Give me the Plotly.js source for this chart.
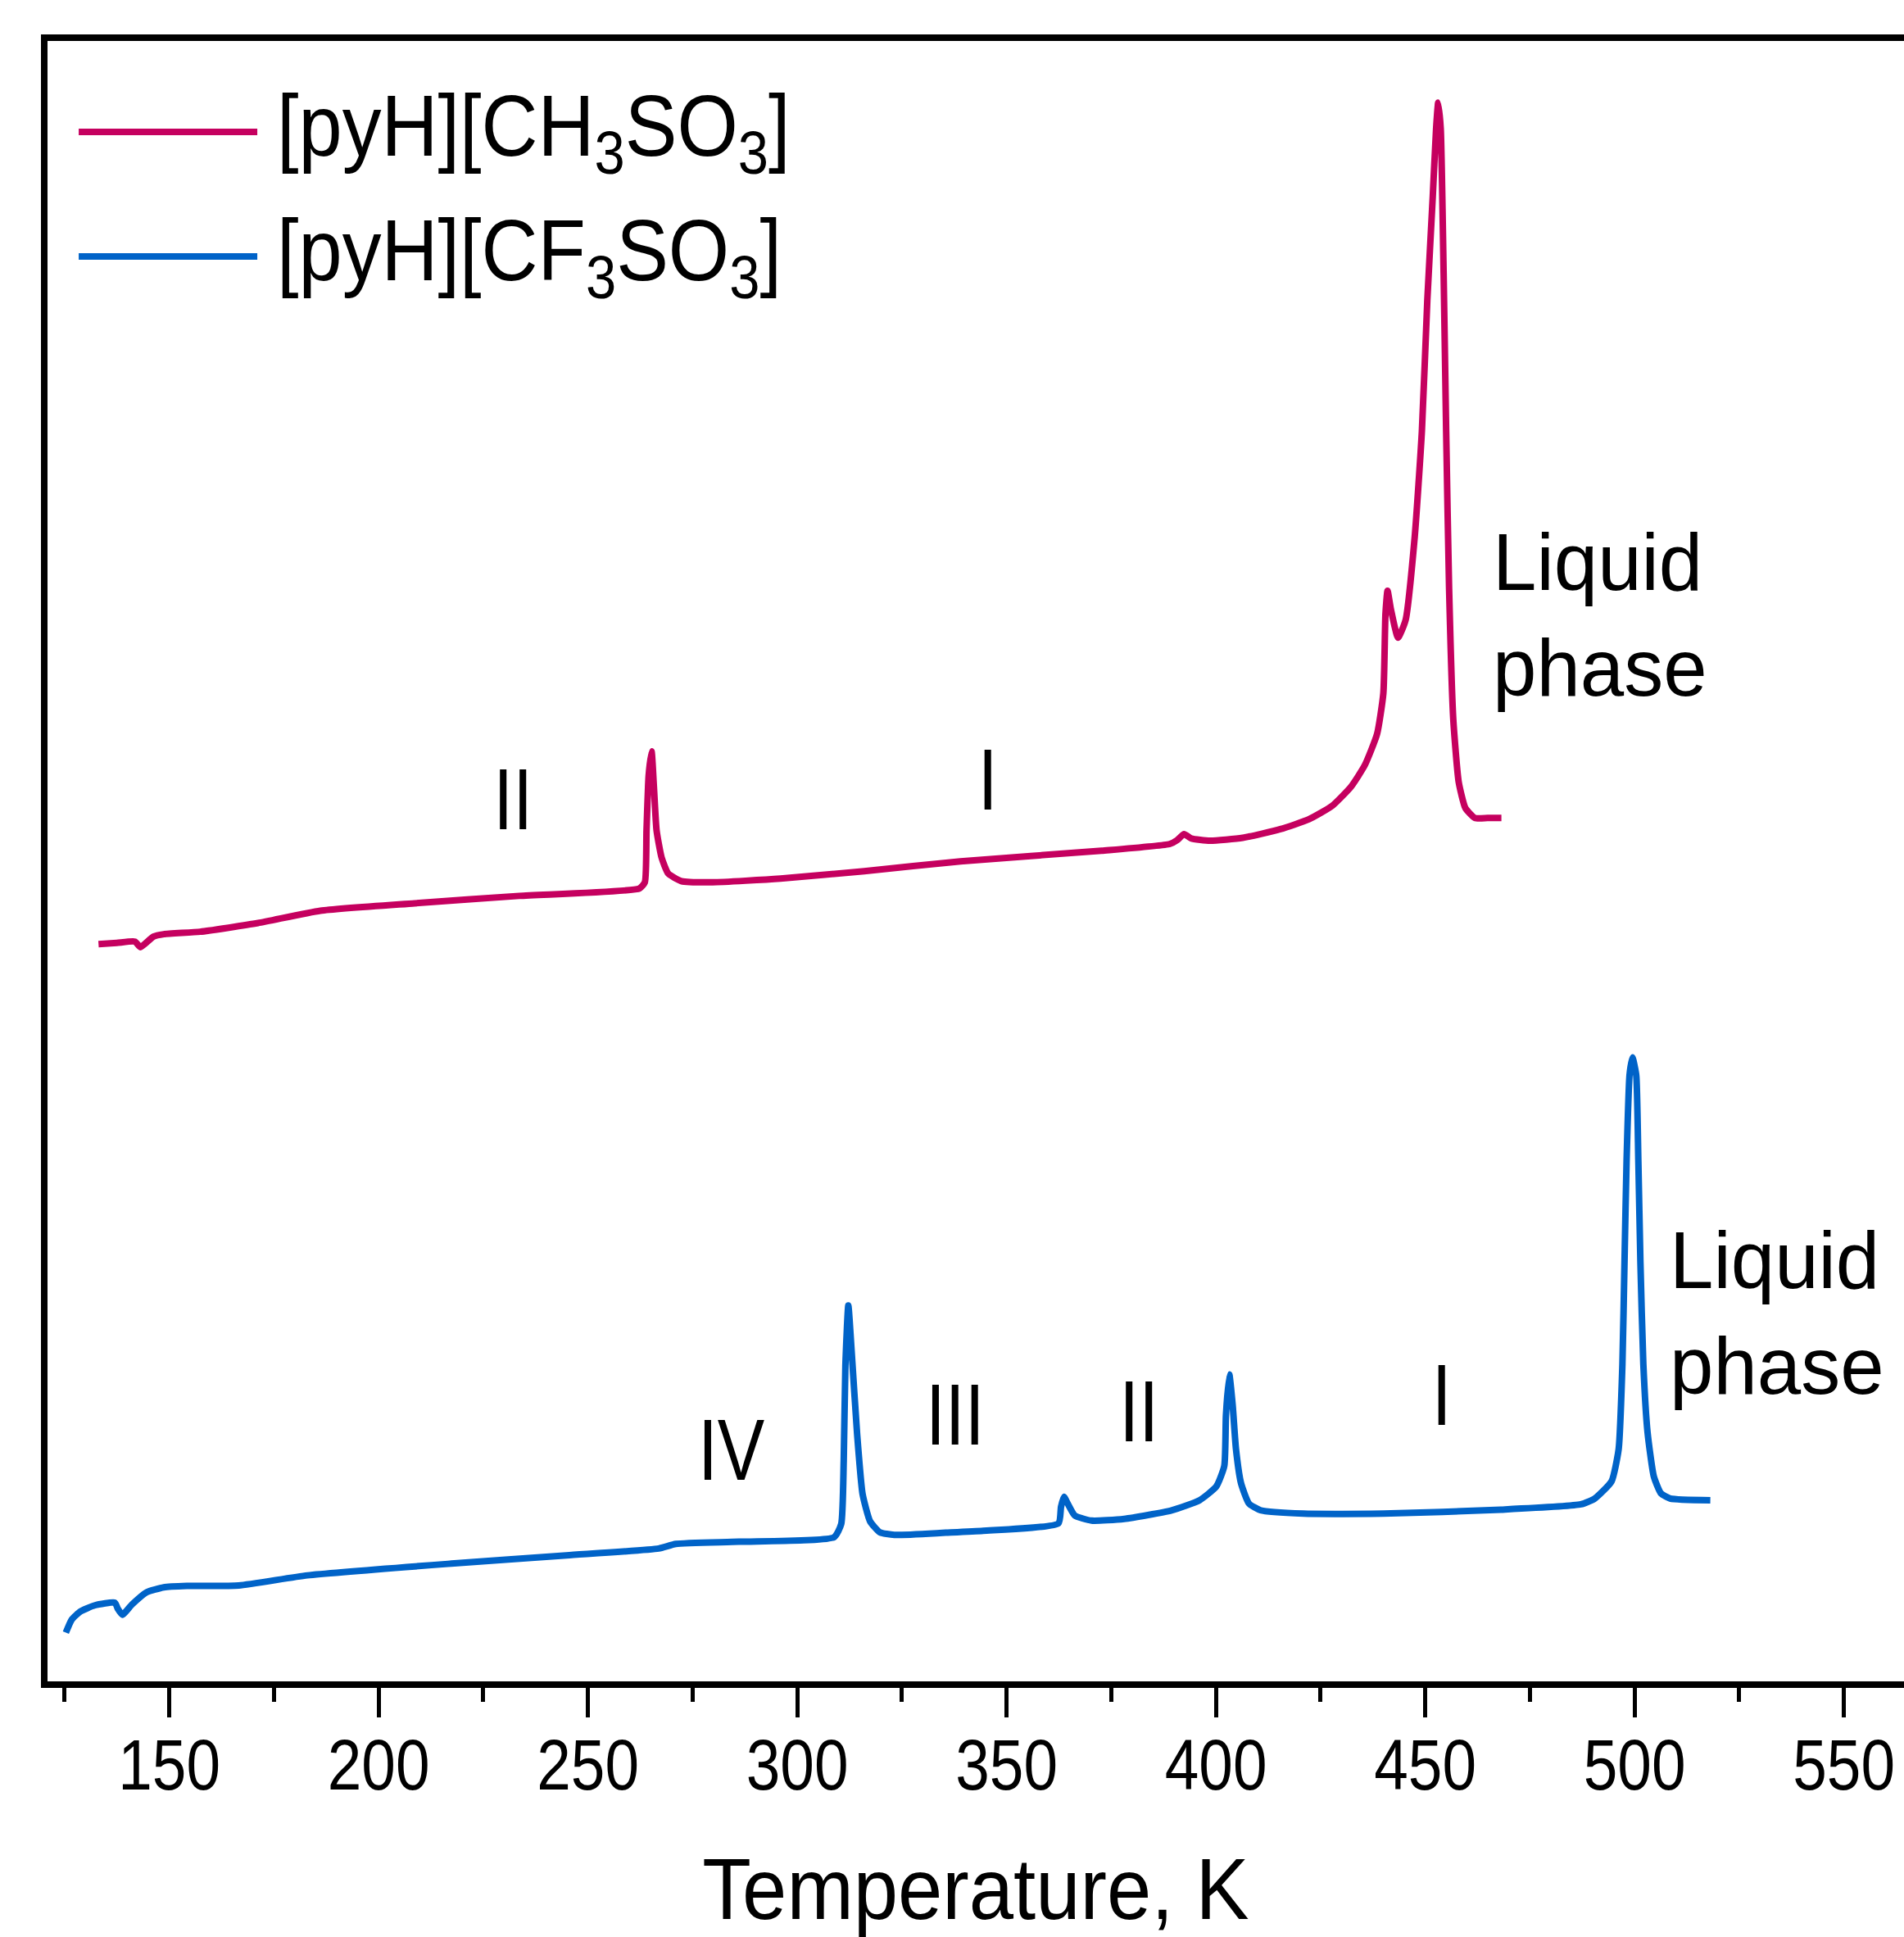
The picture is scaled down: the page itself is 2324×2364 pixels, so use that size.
<!DOCTYPE html>
<html>
<head>
<meta charset="utf-8">
<script src="https://cdn.plot.ly/plotly-3.0.1.min.js"></script>
<style>html,body{margin:0;padding:0;background:#fff;}#chart{width:2324px;height:2364px;}</style>
</head>
<body>
<div id="chart"></div>
<script>
// [pyH][CH3SO3] DSC trace (temperature, K ; heat flow, arbitrary units)
const tempMs = [133.1,137.5,141.8,143.1,146.2,148.7,157.4,171.2,186.1,208.6,233.6,262.3,263.6,264.0,264.5,265.2,265.8,266.4,267.6,269.2,272.3,279.8,296.0,316.0,339.0,372.7,389.0,390.7,392.4,394.1,398.6,406.4,415.4,422.2,427.8,432.3,435.6,438.5,440.0,440.5,441.0,441.8,443.5,445.3,447.5,449.2,450.5,451.8,452.6,453.1,453.7,454.4,455.0,455.7,456.7,458.0,459.6,461.9,464.9,468.2];
const heatMs = [5.98,5.99,6.00,5.955,6.04,6.06,6.08,6.15,6.25,6.31,6.37,6.43,6.48,6.90,7.34,7.54,7.23,6.90,6.68,6.55,6.49,6.48,6.51,6.57,6.65,6.735,6.79,6.82,6.87,6.835,6.817,6.84,6.91,6.99,7.10,7.255,7.43,7.68,8.01,8.65,8.84,8.69,8.46,8.60,9.28,10.13,11.19,12.03,12.58,12.79,12.58,11.40,10.13,8.86,7.80,7.29,7.08,7.00,7.00,7.00];
// [pyH][CF3SO3] DSC trace
const tempTf = [125.3,126.7,128.8,132.2,137.0,137.7,138.8,141.1,144.6,148.7,154.2,166.6,183.0,217.4,244.9,266.9,271.0,286.1,308.8,310.5,311.1,311.5,312.2,313.0,314.3,315.6,317.4,319.7,323.2,335.5,344.4,362.4,363.0,363.7,364.6,366.3,370.3,378.1,389.4,396.1,400.1,402.0,402.4,403.2,404.0,404.8,406.0,407.9,410.7,420.9,440.0,468.1,487.2,490.5,494.5,496.2,497.1,497.6,498.1,498.8,499.5,500.4,500.9,501.4,502.1,503.1,504.6,506.3,508.5,518.1];
const heatTf = [0.407,0.513,0.579,0.628,0.650,0.601,0.552,0.635,0.734,0.774,0.785,0.789,0.871,0.966,1.033,1.088,1.125,1.143,1.180,1.286,1.795,2.568,3.055,2.679,2.016,1.53,1.308,1.22,1.198,1.216,1.231,1.292,1.424,1.507,1.452,1.355,1.314,1.328,1.397,1.479,1.59,1.755,2.167,2.497,2.25,1.892,1.617,1.452,1.397,1.37,1.37,1.403,1.446,1.493,1.631,1.892,2.58,3.405,4.231,4.919,5.062,4.919,4.231,3.405,2.58,2.03,1.672,1.535,1.493,1.479];

const seriesNames = ['[pyH][CH<sub>3</sub>SO<sub>3</sub>]', '[pyH][CF<sub>3</sub>SO<sub>3</sub>]'];
const seriesColors = ['#c5005f', '#0063c8'];

// phase labels: text, temperature, heat-flow position
const phaseTexts = ['II', 'I', 'IV', 'III', 'II', 'I'];
const phaseX = [232.0, 345.5, 284.3, 337.7, 381.5, 453.8];
const phaseY = [7.15, 7.31, 1.887, 2.17, 2.20, 2.33];
const liquidText = 'Liquid<br>phase';
const liquidX = [465.8, 508.0];
const liquidY = [8.647, 2.997];

const xTickVals = [150, 200, 250, 300, 350, 400, 450, 500, 550];

const font = '"Liberation Sans", Arial, sans-serif';
// horizontal squeeze of the original (condensed) lettering
const SQ_PHASE = 0.82, SQ_LIQ = 0.97, SQ_LEG = 0.91, SQ_TICK = 0.86, SQ_TITLE = 0.93;

const traces = [
  {x: tempMs, y: heatMs, mode: 'lines', name: seriesNames[0], line: {color: seriesColors[0], width: 8, shape: 'spline', smoothing: 0.5}, showlegend: false},
  {x: tempTf, y: heatTf, mode: 'lines', name: seriesNames[1], line: {color: seriesColors[1], width: 8, shape: 'spline', smoothing: 0.5}, showlegend: false}
];

const annotations = [];
const annoKind = [];
for (let i = 0; i < phaseTexts.length; i++) {
  annotations.push({x: phaseX[i], y: phaseY[i], xref: 'x', yref: 'y', text: phaseTexts[i], showarrow: false,
    xanchor: 'center', yanchor: 'middle', font: {family: font, size: 105, color: '#000'}});
  annoKind.push(['center', SQ_PHASE]);
}
for (let i = 0; i < liquidX.length; i++) {
  annotations.push({x: liquidX[i], y: liquidY[i], xref: 'x', yref: 'y', text: liquidText, showarrow: false,
    xanchor: 'left', yanchor: 'middle', align: 'left', font: {family: font, size: 99, color: '#000'}});
  annoKind.push(['left', SQ_LIQ]);
}
// custom legend
const legY = [0.9445, 0.8686];
const shapes = [];
for (let i = 0; i < 2; i++) {
  shapes.push({type: 'line', xref: 'paper', yref: 'paper', x0: 0.0168, x1: 0.1130, y0: legY[i], y1: legY[i],
    line: {color: seriesColors[i], width: 8}});
  annotations.push({x: 0.1227, y: legY[i], xref: 'paper', yref: 'paper', text: seriesNames[i], showarrow: false,
    xanchor: 'left', yanchor: 'middle', font: {family: font, size: 105, color: '#000'}});
  annoKind.push(['left', SQ_LEG]);
}

const layout = {
  width: 2324, height: 2364,
  margin: {l: 58, r: 0, t: 50, b: 312, pad: 0},
  paper_bgcolor: '#fff', plot_bgcolor: '#fff',
  xaxis: {
    range: [120.92, 564.36], showgrid: false, zeroline: false,
    showline: true, linecolor: '#000', linewidth: 8, mirror: true,
    ticks: 'outside', ticklen: 36, tickwidth: 5, tickcolor: '#000',
    tickvals: xTickVals, ticktext: xTickVals.map(String),
    ticklabelstandoff: -16,
    minor: {dtick: 25, tick0: 0, ticks: 'outside', ticklen: 17, tickwidth: 5, tickcolor: '#000', showgrid: false},
    tickfont: {family: font, size: 87, color: '#000'},
    title: {text: 'Temperature, K', font: {family: font, size: 105, color: '#000'}, standoff: 78}
  },
  yaxis: {
    range: [0.013, 13.289], showgrid: false, zeroline: false,
    showline: true, linecolor: '#000', linewidth: 8, mirror: false,
    ticks: '', showticklabels: false
  },
  annotations: annotations,
  shapes: shapes
};

function squeeze(el, s, anchor) {
  const b = el.getBBox();
  const cx = anchor === 'left' ? b.x : b.x + b.width / 2;
  const tr = el.getAttribute('transform') || '';
  el.setAttribute('transform', tr + ' translate(' + cx + ',0) scale(' + s + ',1) translate(' + (-cx) + ',0)');
}

Plotly.newPlot('chart', traces, layout, {staticPlot: true}).then(function (gd) {
  gd.querySelectorAll('.xtick text').forEach(function (t) { squeeze(t, SQ_TICK, 'center'); });
  gd.querySelectorAll('.xtitle').forEach(function (t) { squeeze(t, SQ_TITLE, 'center'); });
  gd.querySelectorAll('.annotation').forEach(function (g) {
    const idx = +g.getAttribute('data-index');
    const t = g.querySelector('text');
    if (t && annoKind[idx]) squeeze(t, annoKind[idx][1], annoKind[idx][0]);
  });
});
</script>
</body>
</html>
